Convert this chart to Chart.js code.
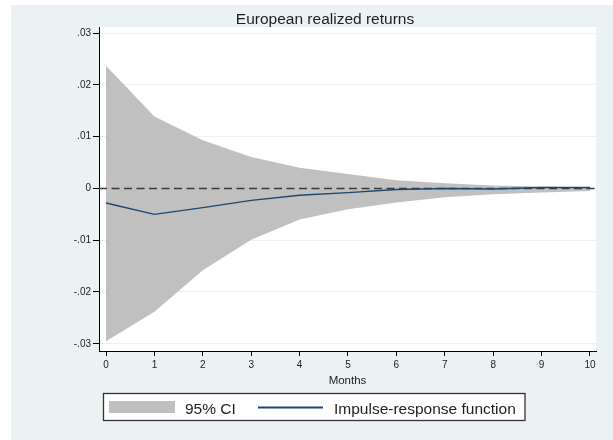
<!DOCTYPE html>
<html>
<head>
<meta charset="utf-8">
<script src="https://cdn.jsdelivr.net/npm/chart.js@4.4.1/dist/chart.umd.min.js"></script>
<style>
  html, body { margin: 0; padding: 0; background: #ffffff; }
  #wrap { width: 613px; height: 440px; }
</style>
</head>
<body>
<div id="wrap"><canvas id="c" width="613" height="440"></canvas></div>
<script>
// Horizon in months and the impulse response with its 95% confidence band
const MONTHS   = [0, 1, 2, 3, 4, 5, 6, 7, 8, 9, 10];
const IRF      = [-0.0028, -0.0050, -0.0037, -0.0023, -0.0013, -0.0008, -0.0002, 0.0000, -0.0001, 0.0002, 0.0002];
const CI_UPPER = [0.0237, 0.0139, 0.0093, 0.0061, 0.0040, 0.0028, 0.0016, 0.0010, 0.0006, 0.0004, 0.0002];
const CI_LOWER = [-0.0295, -0.0238, -0.0158, -0.0099, -0.0060, -0.0040, -0.0027, -0.0017, -0.0011, -0.0008, -0.0005];

// Axis ticks and labels
const Y_TICKS       = [-0.03, -0.02, -0.01, 0, 0.01, 0.02, 0.03];
const Y_TICK_LABELS = ['-.03', '-.02', '-.01', '0', '.01', '.02', '.03'];
const X_TICKS       = MONTHS;

// Axis ranges
const X_MIN = -0.145, X_MAX = 10.125;
const Y_MIN = -0.0314, Y_MAX = 0.0312;

const TITLE = 'European realized returns';
const X_TITLE = 'Months';
const LEGEND_CI = '95% CI';
const LEGEND_IRF = 'Impulse-response function';

const FONT = '"Liberation Sans", Arial, Helvetica, sans-serif';
const BG = '#eaf2f3';
const BAND_COLOR = '#c0c0c0';
const LINE_COLOR = '#1a476f';
const TEXT_COLOR = '#1e1e1e';

const pts = ys => MONTHS.map((m, i) => ({ x: m, y: ys[i] }));

// Backgrounds: outer graph region and white plot region
const backdrop = {
  id: 'backdrop',
  beforeDraw(chart) {
    const { ctx, chartArea: a, width, height } = chart;
    ctx.save();
    ctx.fillStyle = '#ffffff';
    ctx.fillRect(0, 0, width, height);
    ctx.fillStyle = BG;
    ctx.fillRect(11, 5, width - 11, height - 5);
    ctx.fillStyle = '#ffffff';
    ctx.fillRect(a.left, a.top, a.right - a.left, a.bottom - a.top);
    ctx.restore();
  }
};

// Title above the plot and the boxed legend below the axis
const annotations = {
  id: 'annotations',
  afterDraw(chart) {
    const ctx = chart.ctx;
    ctx.save();
    ctx.fillStyle = TEXT_COLOR;
    ctx.font = '15.5px ' + FONT;
    ctx.textAlign = 'center';
    ctx.textBaseline = 'alphabetic';
    ctx.fillText(TITLE, 325, 23.5);

    // legend box
    ctx.fillStyle = '#ffffff';
    ctx.fillRect(103, 393, 422, 27.5);
    ctx.strokeStyle = '#333333';
    ctx.lineWidth = 1.3;
    ctx.strokeRect(103.5, 393.5, 421.5, 27);

    ctx.fillStyle = BAND_COLOR;
    ctx.fillRect(109, 401, 66, 12);

    ctx.strokeStyle = LINE_COLOR;
    ctx.lineWidth = 2;
    ctx.beginPath();
    ctx.moveTo(258, 407.5);
    ctx.lineTo(323, 407.5);
    ctx.stroke();

    ctx.fillStyle = TEXT_COLOR;
    ctx.font = '15.5px ' + FONT;
    ctx.textAlign = 'left';
    ctx.fillText(LEGEND_CI, 185, 413.5);
    ctx.fillText(LEGEND_IRF, 334, 413.5);
    ctx.restore();
  }
};

new Chart(document.getElementById('c'), {
  type: 'line',
  data: {
    datasets: [
      {
        label: LEGEND_IRF,
        data: pts(IRF),
        borderColor: LINE_COLOR,
        borderWidth: 1.4,
        pointRadius: 0,
        fill: false,
        order: 0
      },
      {
        label: 'zero',
        data: [{ x: X_MIN, y: 0 }, { x: X_MAX, y: 0 }],
        borderColor: '#3a3a3a',
        borderWidth: 1.5,
        borderDash: [8, 4.5],
        pointRadius: 0,
        fill: false,
        order: 1
      },
      {
        label: LEGEND_CI,
        data: pts(CI_UPPER),
        borderWidth: 0,
        borderColor: BAND_COLOR,
        backgroundColor: BAND_COLOR,
        pointRadius: 0,
        fill: '+1',
        order: 2
      },
      {
        label: 'lower',
        data: pts(CI_LOWER),
        borderWidth: 0,
        borderColor: BAND_COLOR,
        pointRadius: 0,
        fill: false,
        order: 3
      }
    ]
  },
  options: {
    responsive: false,
    animation: false,
    events: [],
    layout: { padding: { top: 27, right: 17, bottom: 49, left: 0 } },
    plugins: {
      legend: { display: false },
      tooltip: { enabled: false },
      title: { display: false }
    },
    scales: {
      x: {
        type: 'linear',
        min: X_MIN,
        max: X_MAX,
        afterBuildTicks: s => { s.ticks = X_TICKS.map(v => ({ value: v })); },
        afterFit: s => { s.height = 40; },
        ticks: {
          autoSkip: false,
          maxRotation: 0,
          padding: 3,
          color: TEXT_COLOR,
          font: { family: FONT, size: 10 },
          callback: v => String(v)
        },
        grid: {
          drawOnChartArea: false,
          drawTicks: true,
          tickLength: 5,
          tickColor: '#000000',
          tickWidth: 1
        },
        border: { color: '#000000', width: 1 },
        title: {
          display: true,
          text: X_TITLE,
          color: TEXT_COLOR,
          font: { family: FONT, size: 11.5 },
          padding: { top: 0, bottom: 3 }
        }
      },
      y: {
        type: 'linear',
        min: Y_MIN,
        max: Y_MAX,
        afterBuildTicks: s => { s.ticks = Y_TICKS.map(v => ({ value: v })); },
        afterFit: s => { s.width = 99; },
        ticks: {
          autoSkip: false,
          padding: 2,
          color: TEXT_COLOR,
          font: { family: FONT, size: 10 },
          callback: v => Y_TICK_LABELS[Y_TICKS.indexOf(v)]
        },
        grid: {
          color: BG,
          lineWidth: 1,
          drawTicks: true,
          tickLength: 6,
          tickColor: '#000000',
          tickWidth: 1
        },
        border: { color: '#000000', width: 1 }
      }
    }
  },
  plugins: [backdrop, annotations]
});
</script>
</body>
</html>
